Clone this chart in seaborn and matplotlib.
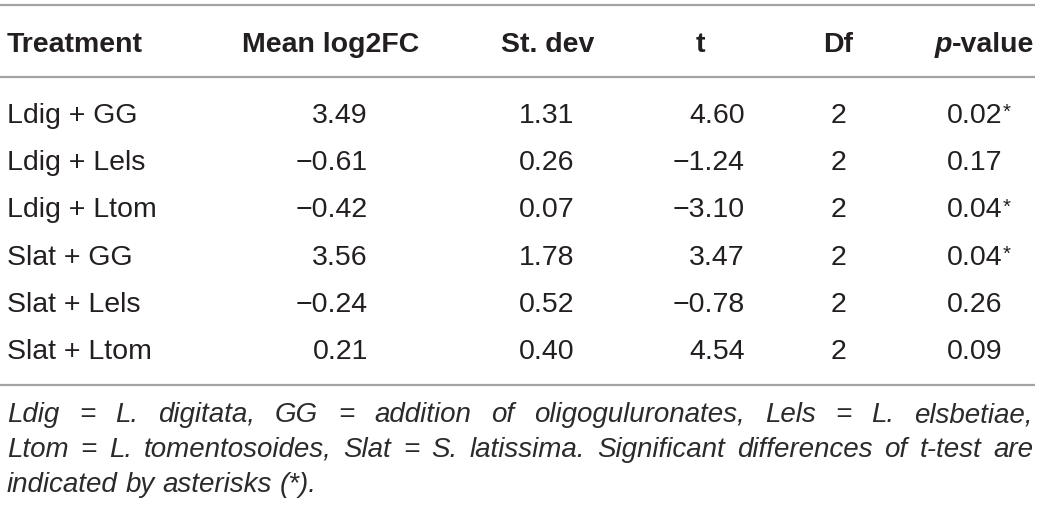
import matplotlib
matplotlib.use("Agg")
import matplotlib.pyplot as plt
import seaborn as sns

# ---------------- data ----------------
columns = ["Treatment", "Mean log2FC", "St. dev", "t", "Df", "p-value"]
treatments = ["Ldig + GG", "Ldig + Lels", "Ldig + Ltom",
              "Slat + GG", "Slat + Lels", "Slat + Ltom"]
mean_log2fc = [3.49, -0.61, -0.42, 3.56, -0.24, 0.21]
st_dev = [1.31, 0.26, 0.07, 1.78, 0.52, 0.40]
t_vals = [4.60, -1.24, -3.10, 3.47, -0.78, 4.54]
df_vals = [2, 2, 2, 2, 2, 2]
p_vals = [0.02, 0.17, 0.04, 0.04, 0.26, 0.09]
significant = [True, False, True, True, False, False]
caption_lines = [
    "Ldig = L. digitata, GG = addition of oligoguluronates, Lels = L. elsbetiae,",
    "Ltom = L. tomentosoides, Slat = S. latissima. Significant differences of t-test are",
    "indicated by asterisks (*).",
]

# ---------------- style ----------------
sns.set_theme(style="white")
plt.rcParams["font.family"] = ["Liberation Sans", "DejaVu Sans"]

W, H = 1040, 508
fig = plt.figure(figsize=(W / 100, H / 100), dpi=100)
ax = fig.add_axes([0, 0, 1, 1])
ax.set_xlim(0, W)
ax.set_ylim(H, 0)
ax.axis("off")

TXT = "#231f20"
RULE = "#a3a3a3"
FS = 20.5
HFS = 20.5
CFS = 20.0


def fmt(v):
    return f"{v:.2f}".replace("-", "\u2212")


# rules
for y in (5, 76.5, 385):
    ax.plot([0, 1035], [y, y], color=RULE, lw=1.6, solid_capstyle="butt")

# header
hb = 52
ax.text(7, hb, columns[0], fontsize=HFS, fontweight="bold", color=TXT, ha="left", va="baseline")
ax.text(242, hb, columns[1], fontsize=HFS, fontweight="bold", color=TXT, ha="left", va="baseline")
ax.text(548, hb, columns[2], fontsize=HFS, fontweight="bold", color=TXT, ha="center", va="baseline")
ax.text(700, hb, columns[3], fontsize=HFS, fontweight="bold", color=TXT, ha="center", va="baseline")
ax.text(838, hb, columns[4], fontsize=HFS, fontweight="bold", color=TXT, ha="center", va="baseline")
ax.text(1034, hb, "-value", fontsize=HFS, fontweight="bold", color=TXT, ha="right", va="baseline")
fig.canvas.draw()
r = fig.canvas.get_renderer()
tmp = ax.text(0, 0, "-value", fontsize=HFS, fontweight="bold")
wv = tmp.get_window_extent(r).width
tmp.remove()
ax.text(1034 - wv, hb, "p", fontsize=HFS, fontweight="bold", fontstyle="italic",
        color=TXT, ha="right", va="baseline")

# body rows
baselines = [123, 170.2, 217.4, 264.6, 311.8, 359]
for i, yb in enumerate(baselines):
    ax.text(7, yb, treatments[i], fontsize=FS, color=TXT, ha="left", va="baseline")
    ax.text(368, yb, fmt(mean_log2fc[i]), fontsize=FS, color=TXT, ha="right", va="baseline")
    ax.text(574, yb, fmt(st_dev[i]), fontsize=FS, color=TXT, ha="right", va="baseline")
    ax.text(745, yb, fmt(t_vals[i]), fontsize=FS, color=TXT, ha="right", va="baseline")
    ax.text(838, yb, str(df_vals[i]), fontsize=FS, color=TXT, ha="center", va="baseline")
    ax.text(1002, yb, fmt(p_vals[i]), fontsize=FS, color=TXT, ha="right", va="baseline")
    if significant[i]:
        ax.text(1002.5, yb - 5, "*", fontsize=FS * 0.72, color=TXT, ha="left", va="baseline")

# caption (justified)
cap_base = [422, 457, 492]
left, right = 7, 1033
for k, (line, yb) in enumerate(zip(caption_lines, cap_base)):
    words = line.split(" ")
    texts = [ax.text(0, yb, w, fontsize=CFS, fontstyle="italic", color="#2b2b2b",
                     ha="left", va="baseline") for w in words]
    fig.canvas.draw()
    widths = [t.get_window_extent(r).width for t in texts]
    last = (k == len(caption_lines) - 1)
    if last:
        sp = ax.text(0, 0, "a b", fontsize=CFS, fontstyle="italic")
        sp2 = ax.text(0, 0, "ab", fontsize=CFS, fontstyle="italic")
        fig.canvas.draw()
        gap = sp.get_window_extent(r).width - sp2.get_window_extent(r).width
        sp.remove(); sp2.remove()
    else:
        gap = (right - left - sum(widths)) / (len(words) - 1)
    x = left
    for t, w in zip(texts, widths):
        t.set_x(x)
        x += w + gap

fig.savefig("out.png", dpi=100)
